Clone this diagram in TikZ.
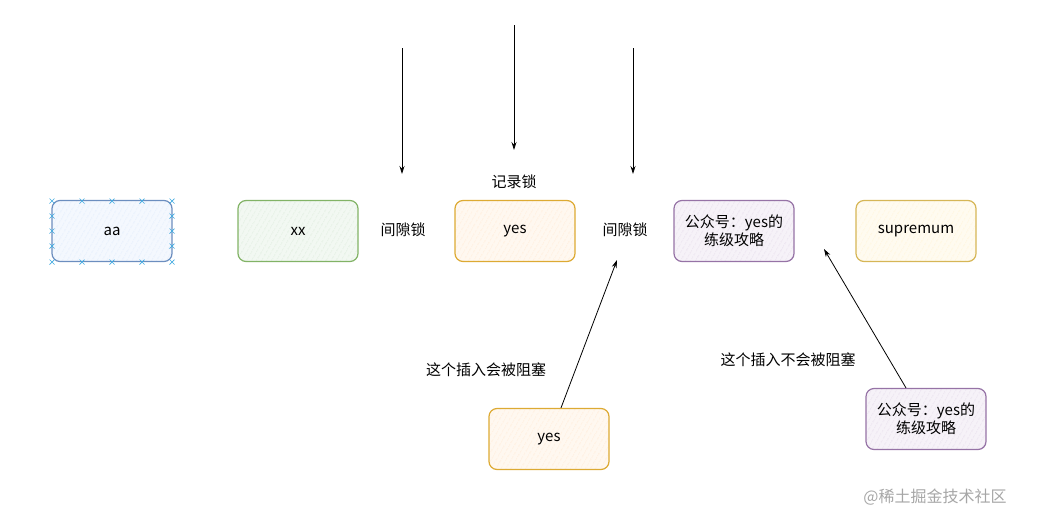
\documentclass[tikz,border=0pt]{standalone}
\usepackage{fontspec}
\setmainfont{Noto Sans CJK SC}
\usetikzlibrary{patterns.meta}
\usetikzlibrary{arrows.meta}

\definecolor{bluefill}{HTML}{DAE8FC}
\definecolor{bluedraw}{HTML}{6C8EBF}
\definecolor{greenfill}{HTML}{D5E8D4}
\definecolor{greendraw}{HTML}{82B366}
\definecolor{orangefill}{HTML}{FFE6CC}
\definecolor{orangedraw}{HTML}{DDAA33}
\definecolor{yellowfill}{HTML}{FFF2CC}
\definecolor{yellowdraw}{HTML}{D6B656}
\definecolor{purplefill}{HTML}{E1D5E7}
\definecolor{purpledraw}{HTML}{9673A6}
\definecolor{handle}{HTML}{3FA9E0}

\begin{document}
\begin{tikzpicture}[x=1pt, y=-1pt,
    every node/.style={font=\fontsize{15}{18}\selectfont},
    rec/.style={rounded corners=8pt, line width=1.2pt, minimum width=120pt, minimum height=61pt,
      inner sep=0pt, align=center},
    hatch/.style={draw=#1draw, preaction={fill=#1fill!30},
      pattern={Lines[angle=60, distance=4pt, line width=0.5pt]}, pattern color=#1fill},
    lbl/.style={inner sep=1pt},
    arr/.style={-{Stealth[length=8pt, width=5pt]}, line width=0.8pt}]

  \useasboundingbox (0,0) rectangle (1041,525);

  % row of records
  \node[rec, hatch=blue] (aa) at (112, 231) {aa};
  \node[rec, hatch=green] (xx) at (298, 231) {xx};
  \node[rec, hatch=orange] (yes) at (515, 231) {yes};
  \node[rec, hatch=purple] (gzh) at (734, 231) {公众号：yes的\\练级攻略};
  \node[rec, hatch=yellow] (sup) at (916, 231) {supremum};

  % selection handles round aa
  \foreach \x in {52, 82, 112, 142, 172} {
    \draw[handle, line width=0.7pt] (\x-2.5, 201-2.5) -- (\x+2.5, 201+2.5) (\x-2.5, 201+2.5) -- (\x+2.5, 201-2.5);
    \draw[handle, line width=0.7pt] (\x-2.5, 262-2.5) -- (\x+2.5, 262+2.5) (\x-2.5, 262+2.5) -- (\x+2.5, 262-2.5);
  }
  \foreach \y in {216, 231, 246} {
    \draw[handle, line width=0.7pt] (52-2.5, \y-2.5) -- (52+2.5, \y+2.5) (52-2.5, \y+2.5) -- (52+2.5, \y-2.5);
    \draw[handle, line width=0.7pt] (172-2.5, \y-2.5) -- (172+2.5, \y+2.5) (172-2.5, \y+2.5) -- (172+2.5, \y-2.5);
  }

  % lock labels
  \node[lbl] (gap1) at (403, 230) {间隙锁};
  \node[lbl] (gap2) at (625, 230) {间隙锁};
  \node[lbl] (reclock) at (514, 182) {记录锁};

  \coordinate (t1) at (402, 48);
  \coordinate (e1) at (402, 174);
  \coordinate (t2) at (514, 25);
  \coordinate (e2) at (514, 150);
  \coordinate (t3) at (633, 48);
  \coordinate (e3) at (633, 174);
  \draw[arr] (t1) -- (e1);
  \draw[arr] (t2) -- (e2);
  \draw[arr] (t3) -- (e3);

  % inserts
  \node[rec, hatch=orange] (ins1) at (549, 439) {yes};
  \node[rec, hatch=purple] (ins2) at (926, 419) {公众号：yes的\\练级攻略};

  \node[lbl] at (486, 370) {这个插入会被阻塞};
  \node[lbl] at (788, 360) {这个插入不会被阻塞};

  \coordinate (h1) at (617, 260);
  \coordinate (h2) at (824, 249);
  \draw[arr] (ins1.north) ++(12,0) -- (h1);
  \draw[arr] (ins2.north) ++(-20,0) -- (h2);

  \node[text=black!35, font=\fontsize{16}{19}\selectfont] at (935, 497) {@稀土掘金技术社区};

\end{tikzpicture}
\end{document}
